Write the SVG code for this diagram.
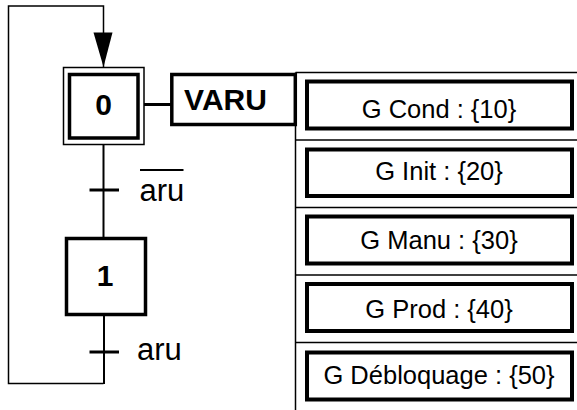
<svg xmlns="http://www.w3.org/2000/svg" width="577" height="410" viewBox="0 0 577 410">
  <style>
    .thin { fill: none; stroke: #000; stroke-width: 1.5; }
    .wire { fill: none; stroke: #000; stroke-width: 2; }
    .step { fill: #fff; stroke: #000; stroke-width: 3.5; }
    .act { fill: #fff; stroke: #000; stroke-width: 4; }
    .bar { stroke: #000; stroke-width: 3; }
    .num { font-family: "Liberation Sans", Arial, sans-serif; font-weight: bold; font-size: 30px; text-anchor: middle; }
    .cond { font-family: "Liberation Sans", Arial, sans-serif; font-size: 31px; }
    .lbl { font-family: "Liberation Sans", Arial, sans-serif; font-size: 25.5px; text-anchor: middle; }
  </style>

  <!-- links between steps, transitions and loop-back -->
  <g id="connectors">
    <polyline class="thin" points="103.5,67 103.5,6 8.5,6 8.5,383.5 103.5,383.5"/>
    <polygon points="93.5,32.5 112.5,32.5 103.5,67" fill="#000"/>
    <line class="wire" x1="103.5" y1="144" x2="103.5" y2="238"/>
    <line class="wire" x1="104" y1="314" x2="104" y2="384"/>
    <line x1="144" y1="104.5" x2="171" y2="104.5" stroke="#000" stroke-width="3"/>
    <!-- transition bars -->
    <line class="bar" x1="89.5" y1="190" x2="119" y2="190"/>
    <line class="bar" x1="89.5" y1="352" x2="119" y2="352"/>
  </g>

  <!-- initial step 0 -->
  <g id="step0">
    <rect class="thin" x="63.5" y="67.5" width="80.5" height="77"/>
    <rect class="step" x="69.5" y="74.5" width="68.5" height="63.5"/>
    <text class="num" x="103.5" y="115">0</text>
  </g>

  <!-- step 1 -->
  <g id="step1">
    <rect class="step" x="66.5" y="238.5" width="79" height="76"/>
    <text class="num" x="105" y="286">1</text>
  </g>

  <!-- transition conditions -->
  <g id="t0">
    <line x1="140" y1="170" x2="183.5" y2="170" stroke="#000" stroke-width="2"/>
    <text class="cond" x="139.5" y="201">aru</text>
  </g>
  <g id="t1">
    <text class="cond" x="137" y="360">aru</text>
  </g>

  <!-- action attached to step 0 -->
  <g id="varu">
    <rect class="step" x="171.8" y="74.5" width="123.5" height="50"/>
    <text class="num" x="225.5" y="110">VARU</text>
  </g>

  <!-- forced-grafcet action list -->
  <g id="actions">
    <line class="thin" x1="295.5" y1="72.5" x2="295.5" y2="410"/>
    <line class="thin" x1="295.5" y1="72.5" x2="577" y2="72.5"/>
    <line class="thin" x1="295.5" y1="140" x2="577" y2="140"/>
    <line class="thin" x1="295.5" y1="207.5" x2="577" y2="207.5"/>
    <line class="thin" x1="295.5" y1="275" x2="577" y2="275"/>
    <line class="thin" x1="295.5" y1="342.5" x2="577" y2="342.5"/>
  </g>
  <g id="g-cond">
    <rect class="act" x="307" y="81.5" width="265" height="47"/>
    <text class="lbl" x="439" y="118">G Cond : {10}</text>
  </g>
  <g id="g-init">
    <rect class="act" x="307" y="149.5" width="265" height="46.5"/>
    <text class="lbl" x="439" y="179.5">G Init : {20}</text>
  </g>
  <g id="g-manu">
    <rect class="act" x="307" y="216.5" width="265" height="47"/>
    <text class="lbl" x="439" y="249">G Manu : {30}</text>
  </g>
  <g id="g-prod">
    <rect class="act" x="307" y="284" width="265" height="47"/>
    <text class="lbl" x="439" y="318">G Prod : {40}</text>
  </g>
  <g id="g-debloquage">
    <rect class="act" x="307" y="352.5" width="265" height="47"/>
    <text class="lbl" x="439" y="384">G Débloquage : {50}</text>
  </g>
</svg>
